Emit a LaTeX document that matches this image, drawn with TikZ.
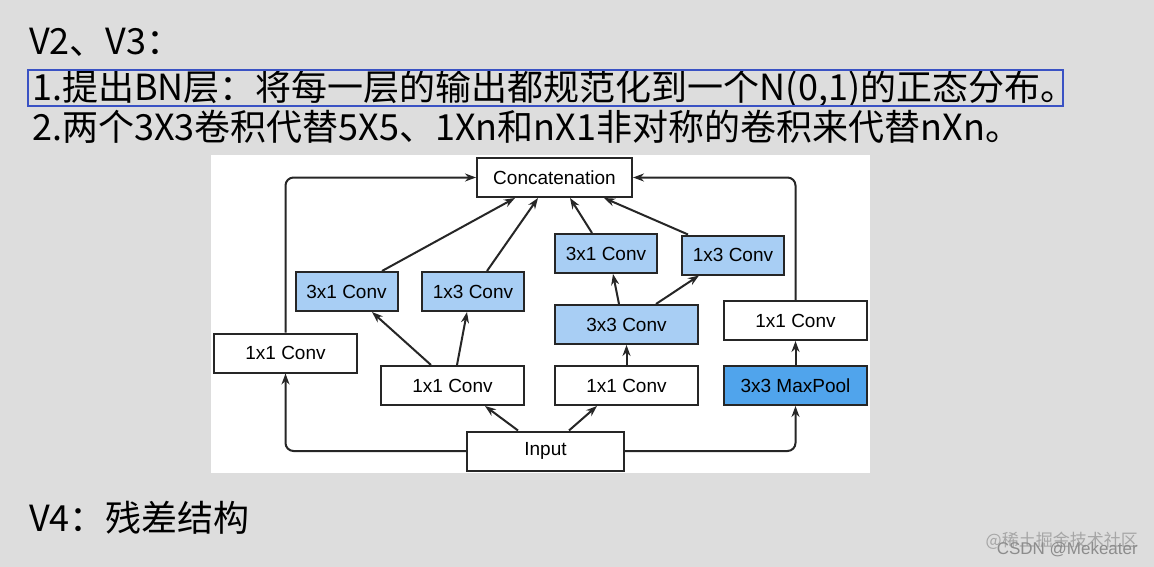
\documentclass[tikz,border=0pt]{standalone}
\usepackage{fontspec}
\setmainfont{Liberation Sans}
\newfontfamily\cjk{Noto Sans CJK SC}
\usetikzlibrary{arrows.meta}
\definecolor{bgc}{RGB}{221,221,221}
\definecolor{lb}{RGB}{168,206,244}
\definecolor{mb}{RGB}{80,164,236}
\definecolor{frame}{RGB}{58,82,196}
\tikzset{
  blk/.style={draw=black!85,line width=2pt,inner sep=0pt,font=\fontsize{19}{19}\selectfont},
  arr/.style={-{Stealth[length=11pt,width=8pt]},line width=2pt,black!85,rounded corners=8pt},
  big/.style={anchor=west,inner sep=0pt,font=\cjk\fontsize{36}{36}\selectfont}
}
\begin{document}
\begin{tikzpicture}[x=1pt,y=-1pt]
\fill[bgc] (0,0) rectangle (1154,567);
\useasboundingbox (0,0) rectangle (1154,567);
\fill[white] (211,155) rectangle (870,473);
\node[big] (t1) at (29,42) {V2、V3：};
\node[big] (t2) at (32,89) {1.提出BN层：将每一层的输出都规范化到一个N(0,1)的正态分布。};
\node[big] (t3) at (32,127) {2.两个3X3卷积代替5X5、1Xn和nX1非对称的卷积来代替nXn。};
\node[big] (t4) at (29,518) {V4：残差结构};
\draw[frame,line width=2pt] (28,70) rectangle (1063,106);
% boxes
\node[blk,fill=white,minimum width=155pt,minimum height=39pt] (cat) at (554.5,177.5) {Concatenation};
\node[blk,fill=lb,minimum width=102pt,minimum height=39pt] (a31) at (346.5,291.5) {3x1 Conv};
\node[blk,fill=lb,minimum width=102pt,minimum height=39pt] (a13) at (473,291.5) {1x3 Conv};
\node[blk,fill=lb,minimum width=102pt,minimum height=39pt] (b31) at (606,253.5) {3x1 Conv};
\node[blk,fill=lb,minimum width=102pt,minimum height=39pt] (b13) at (733,255) {1x3 Conv};
\node[blk,fill=lb,minimum width=143pt,minimum height=39pt] (b33) at (626.5,324.5) {3x3 Conv};
\node[blk,fill=white,minimum width=143pt,minimum height=39pt] (d11) at (795.5,320.5) {1x1 Conv};
\node[blk,fill=white,minimum width=143pt,minimum height=39pt] (c11) at (285.5,353) {1x1 Conv};
\node[blk,fill=white,minimum width=143pt,minimum height=39pt] (a11) at (452.5,385.5) {1x1 Conv};
\node[blk,fill=white,minimum width=143pt,minimum height=39pt] (b11) at (626.5,385.5) {1x1 Conv};
\node[blk,fill=mb,minimum width=143pt,minimum height=39pt] (mp) at (795.5,385.5) {3x3 MaxPool};
\node[blk,fill=white,minimum width=157pt,minimum height=39pt] (in) at (545.5,451) {Input};
% connectors
\draw[arr] (in.west) -| (c11.south);
\draw[arr] (in.east) -| (mp.south);
\draw[arr] (c11.north) |- (cat.west);
\draw[arr] (d11.north) |- (cat.east);
\draw[arr] (mp.north) -- (d11.south);
\draw[arr] (in.north -| 518,0) -- (a11.south -| 485,0);
\draw[arr] (in.north -| 569,0) -- (b11.south -| 597,0);
\draw[arr] (a11.north -| 431,0) -- (a31.south -| 372,0);
\draw[arr] (a11.north -| 457,0) -- (a13.south -| 467,0);
\draw[arr] (a31.north -| 382,0) -- (cat.south -| 515,0);
\draw[arr] (a13.north -| 487,0) -- (cat.south -| 538,0);
\draw[arr] (b31.north -| 592,0) -- (cat.south -| 570,0);
\draw[arr] (b13.north -| 688,0) -- (cat.south -| 604,0);
\draw[arr] (b11.north) -- (b33.south);
\draw[arr] (b33.north -| 619,0) -- (b31.south -| 613,0);
\draw[arr] (b33.north -| 656,0) -- (b13.south -| 699,0);
% watermark
\node[text=black!35,font=\cjk\fontsize{17}{17}\selectfont,anchor=east,inner sep=0pt] (w1) at (1138,541) {@稀土掘金技术社区};
\node[text=black!45,font=\fontsize{17}{17}\selectfont,anchor=east,inner sep=0pt] (w2) at (1138,550) {CSDN @Mekeater};
\end{tikzpicture}
\end{document}
